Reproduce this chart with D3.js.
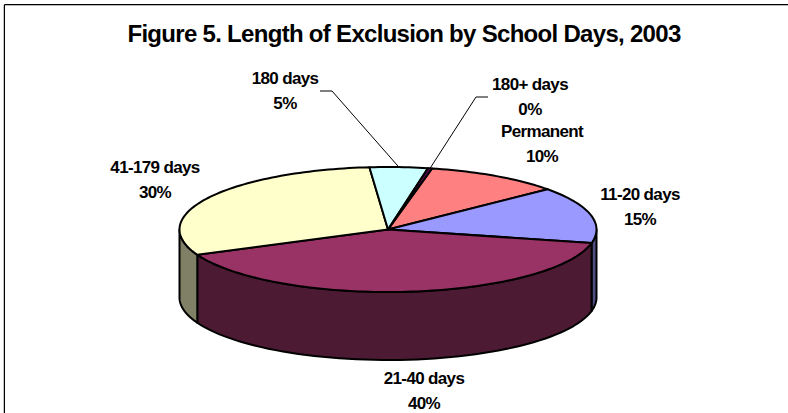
<!DOCTYPE html>
<html><head><meta charset="utf-8">
<script src="https://cdn.jsdelivr.net/npm/d3@7"></script>
<style>html,body{margin:0;padding:0;background:#fff}svg{display:block}</style>
</head><body><svg id="c" width="788" height="413"></svg>
<script>
const titleText = "Figure 5. Length of Exclusion by School Days, 2003";
const categories = ["Permanent","11-20 days","21-40 days","41-179 days","180 days","180+ days"];
const values = [10.49,14.6,39.9,30.2,4.5,0.31];
const topColors = ["#ff8080","#9999ff","#993366","#ffffcc","#ccffff","#660066"];
const sideColors = ["#808040","#4d4d80","#4d1a33","#808066","#668080","#330033"];
const labelX = [542,640,424,155,285,530];
const labelY = [137,200,384,173,84,90];
const startDeg = 12.2;

const svg = d3.select("#c");
const cx=388, cy=229.5, rx=208.5, ry=62.5, depth=68;
const px = t => cx + rx*Math.sin(t), py = t => cy - ry*Math.cos(t);

svg.append("path").attr("d","M3.5,5V413").attr("stroke","#c4c4c4").attr("fill","none");
svg.append("path").attr("d","M5,5.5H788").attr("stroke","#b8b8b8").attr("fill","none");
svg.append("path").attr("d","M4.5,413V4.5H788").attr("stroke","#000").attr("fill","none");

svg.append("text").attr("x",404).attr("y",42).attr("text-anchor","middle")
  .attr("font-family","Liberation Sans").attr("font-weight","bold").attr("font-size",24)
  .attr("letter-spacing",-0.7).attr("fill","#000").text(titleText);

const rad = d3.scaleLinear().domain([0,360]).range([0,2*Math.PI]);
const pie = d3.pie().sort(null).startAngle(rad(startDeg)).endAngle(rad(startDeg+360));
const arcs = pie(values).map((d,i)=>({...d,i}));
const line = d3.line();

// side wall of each slice, front half only
const sideG = svg.append("g");
arcs.forEach(a=>{
  const lo=Math.max(a.startAngle,Math.PI/2), hi=Math.min(a.endAngle,3*Math.PI/2);
  if(hi>lo){
    const ts=d3.range(0,61).map(j=>lo+(hi-lo)*j/60);
    const top=ts.map(t=>[px(t),py(t)]);
    const bot=ts.slice().reverse().map(t=>[px(t),py(t)+depth]);
    sideG.append("path").attr("d",line(top.concat(bot))+"Z")
      .attr("fill",sideColors[a.i]).attr("stroke","#000").attr("stroke-width",2).attr("stroke-linejoin","round");
  }
});

// top face
const topG = svg.append("g");
arcs.forEach(a=>{
  const n=Math.max(2,Math.ceil((a.endAngle-a.startAngle)*40));
  const ts=d3.range(0,n+1).map(j=>a.startAngle+(a.endAngle-a.startAngle)*j/n);
  const pts=[[cx,cy]].concat(ts.map(t=>[px(t),py(t)]));
  topG.append("path").attr("d",line(pts)+"Z")
    .attr("fill",topColors[a.i]).attr("stroke","#000").attr("stroke-width",2).attr("stroke-linejoin","round");
});

// leader lines
const mid = a => (a.startAngle+a.endAngle)/2;
const leaders=[[4,[[332,91],[320,91]]],[5,[[476,97],[488,97]]]];
leaders.forEach(([i,rest])=>{
  const t=mid(arcs[i]);
  svg.append("path").attr("d",line([[px(t),py(t)],...rest])).attr("fill","none").attr("stroke","#000").attr("stroke-width",1);
});

// labels
const fmt=d3.format(".0f");
const lab=svg.append("g").attr("font-family","Liberation Sans").attr("font-weight","bold").attr("font-size",17)
  .attr("letter-spacing",-0.65).attr("fill","#000").attr("text-anchor","middle");
categories.forEach((c,i)=>{
  const t=lab.append("text");
  t.append("tspan").attr("x",labelX[i]).attr("y",labelY[i]).text(c);
  t.append("tspan").attr("x",labelX[i]).attr("y",labelY[i]+25).text(fmt(values[i])+"%");
});
</script></body></html>
